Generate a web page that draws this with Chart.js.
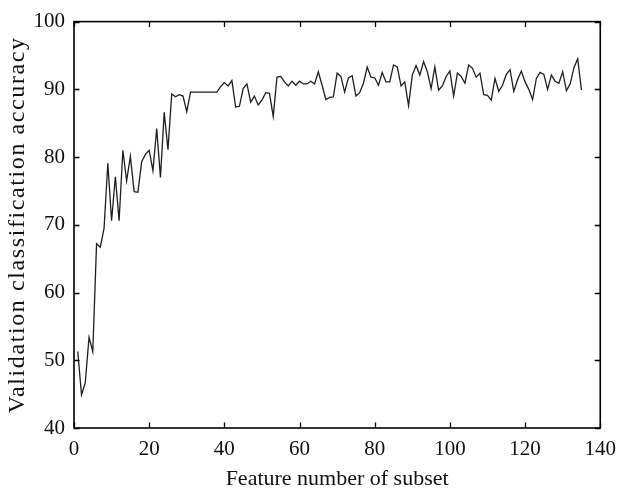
<!DOCTYPE html>
<html>
<head>
<meta charset="utf-8">
<script src="https://cdn.jsdelivr.net/npm/chart.js@4"></script>
<style>
  html, body { margin: 0; padding: 0; background: #fff; }
  #wrap { width: 625px; height: 492px; }
</style>
</head>
<body>
<div id="wrap"><canvas id="accuracyChart" width="625" height="492"></canvas></div>
<script>
// validation accuracy for feature subsets 1..135
const firstFeature = 1;
const accuracy = [
  51.3, 44.9, 46.7, 53.4, 51.3, 67.2, 66.7, 69.5, 79.1, 70.6,
  77.1, 70.6, 81.0, 76.5, 80.1, 74.9, 74.8, 79.3, 80.4, 81.0,
  78.0, 84.2, 77.0, 86.6, 81.1, 89.3, 88.9, 89.2, 89.0, 86.7,
  89.6, 89.6, 89.6, 89.6, 89.6, 89.6, 89.6, 89.6, 90.4, 91.0,
  90.5, 91.3, 87.4, 87.5, 90.1, 90.8, 88.1, 89.0, 87.7, 88.4,
  89.5, 89.4, 86.0, 91.8, 91.9, 91.1, 90.5, 91.2, 90.6, 91.2,
  90.8, 90.8, 91.2, 90.8, 92.6, 90.6, 88.5, 88.8, 88.9, 92.4,
  91.9, 89.6, 91.7, 92.0, 89.0, 89.5, 90.9, 93.3, 91.8, 91.7,
  90.6, 92.5, 91.1, 91.1, 93.6, 93.3, 90.5, 91.1, 87.6, 92.1,
  93.5, 92.1, 94.1, 92.6, 90.1, 93.3, 89.9, 90.5, 91.9, 92.7,
  89.0, 92.4, 91.9, 90.9, 93.6, 93.1, 91.8, 92.4, 89.2, 89.1,
  88.4, 91.6, 89.7, 90.6, 92.2, 92.9, 89.7, 91.4, 92.7, 91.1,
  90.0, 88.5, 91.6, 92.5, 92.2, 90.0, 92.1, 91.2, 90.9, 92.6,
  89.8, 90.8, 93.2, 94.5, 89.9
];
const xTicks = [0, 20, 40, 60, 80, 100, 120, 140];
const yTicks = [40, 50, 60, 70, 80, 90, 100];
const xTitle = 'Feature number of subset';
const yTitle = 'Validation classification accuracy';

const points = accuracy.map((v, i) => ({ x: firstFeature + i, y: v }));
const serif = "'Liberation Serif', 'DejaVu Serif', serif";

// box around plot with ticks pointing inwards on all four sides
const boxTicks = {
  id: 'boxTicks',
  afterDatasetsDraw(chart) {
    const { ctx, chartArea: a, scales } = chart;
    const len = 5.5;
    ctx.save();
    ctx.strokeStyle = '#000';
    ctx.lineWidth = 1.3;
    ctx.beginPath();
    xTicks.forEach(t => {
      const px = Math.round(scales.x.getPixelForValue(t)) + 0.5;
      ctx.moveTo(px, a.bottom); ctx.lineTo(px, a.bottom - len);
      ctx.moveTo(px, a.top); ctx.lineTo(px, a.top + len);
    });
    yTicks.forEach(t => {
      const py = Math.round(scales.y.getPixelForValue(t)) + 0.5;
      ctx.moveTo(a.left, py); ctx.lineTo(a.left + len, py);
      ctx.moveTo(a.right, py); ctx.lineTo(a.right - len, py);
    });
    ctx.stroke();
    ctx.lineWidth = 1.6;
    ctx.strokeRect(a.left, a.top, a.right - a.left, a.bottom - a.top);
    ctx.restore();
  }
};

// y title is a bit more spread out in the original, so draw it here
const yTitleText = {
  id: 'yTitleText',
  afterDraw(chart) {
    const { ctx, chartArea: a } = chart;
    ctx.save();
    ctx.translate(18, (a.top + a.bottom) / 2);
    ctx.rotate(-Math.PI / 2);
    ctx.font = '24px ' + serif;
    ctx.letterSpacing = '1.6px';
    ctx.fillStyle = '#111';
    ctx.textAlign = 'center';
    ctx.textBaseline = 'middle';
    ctx.fillText(yTitle, 0, 0);
    ctx.restore();
  }
};

new Chart(document.getElementById('accuracyChart'), {
  type: 'line',
  data: {
    datasets: [{
      data: points,
      borderColor: '#1e1e1e',
      borderWidth: 1.3,
      pointRadius: 0,
      tension: 0,
      fill: false
    }]
  },
  options: {
    responsive: false,
    animation: false,
    layout: { padding: { top: 12, right: 23, bottom: 0, left: 0 } },
    plugins: { legend: { display: false }, tooltip: { enabled: false } },
    scales: {
      x: {
        type: 'linear',
        min: 0,
        max: 140,
        afterBuildTicks: s => { s.ticks = xTicks.map(v => ({ value: v })); },
        afterFit: s => { s.height = 64; },
        grid: { display: false, drawTicks: false },
        border: { display: false },
        ticks: { color: '#111', padding: 9, maxRotation: 0, font: { family: serif, size: 21 } },
        title: {
          display: true, text: xTitle, color: '#111',
          padding: { top: 0, bottom: 0 },
          font: { family: serif, size: 22, lineHeight: 1.2 }
        }
      },
      y: {
        min: 40,
        max: 100,
        afterBuildTicks: s => { s.ticks = yTicks.map(v => ({ value: v })); },
        afterFit: s => { s.width = 74; },
        grid: { display: false, drawTicks: false },
        border: { display: false },
        ticks: { color: '#111', padding: 9, font: { family: serif, size: 21 } },
        title: { display: false }
      }
    }
  },
  plugins: [boxTicks, yTitleText]
});
</script>
</body>
</html>
